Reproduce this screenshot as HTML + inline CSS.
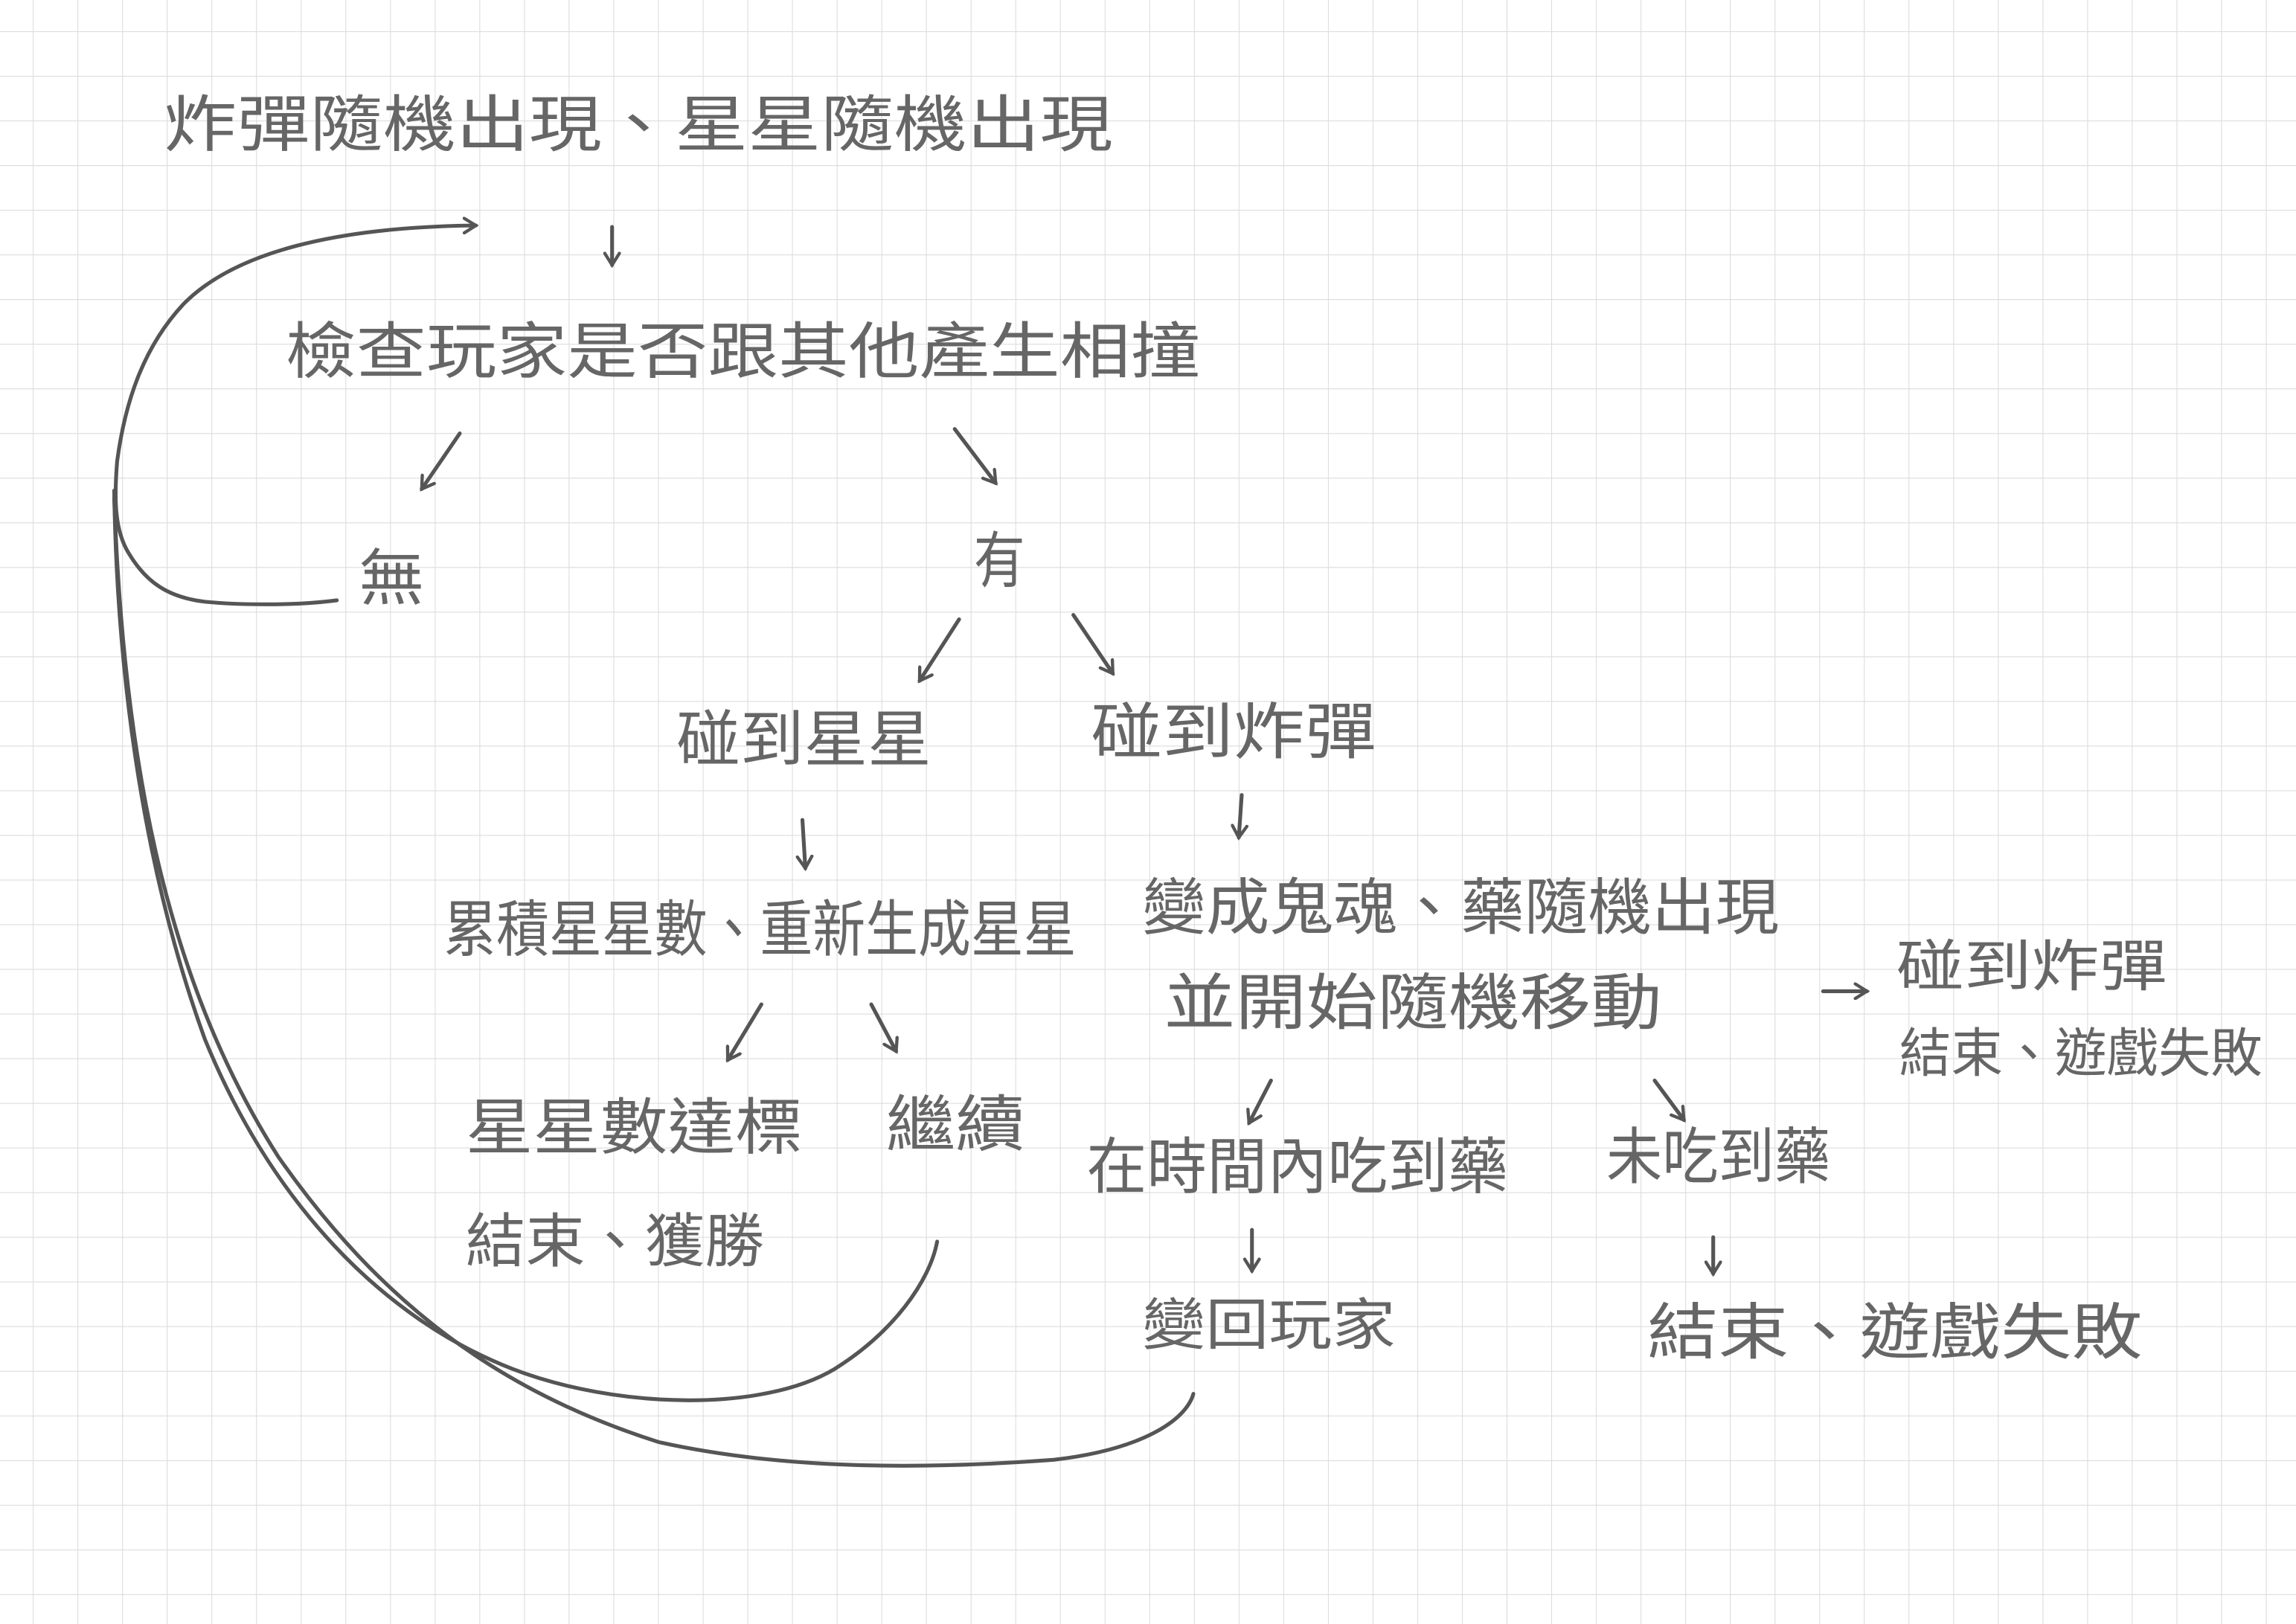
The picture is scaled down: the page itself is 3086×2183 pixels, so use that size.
<!DOCTYPE html>
<html><head><meta charset="utf-8"><style>
html,body{margin:0;padding:0;background:#fff;}
svg{display:block;}
text{font-family:"Liberation Sans","Noto Sans CJK TC","WenQuanYi Zen Hei",sans-serif;fill:#666;dominant-baseline:central;}
</style></head><body>
<svg width="3086" height="2183" viewBox="0 0 1568 1109.2" preserveAspectRatio="none" xmlns="http://www.w3.org/2000/svg">
<defs>
<pattern id="g" x="22.4" y="21.3" width="30.5" height="30.5" patternUnits="userSpaceOnUse">
<path d="M0 0H30.5M0 0V30.5" stroke="#dcdcdc" stroke-width="1.1" fill="none"/>
</pattern>
<marker id="a" markerWidth="12" markerHeight="12" refX="9" refY="6" orient="auto" markerUnits="userSpaceOnUse">
<path d="M1 1L9 6L1 11" fill="none" stroke="#555" stroke-width="2.2" stroke-linecap="round"/>
</marker>
</defs>
<rect width="1568" height="1110" fill="#fff"/>
<rect width="1568" height="1110" fill="url(#g)"/>
<g font-size="42">
<text x="112" y="85" textLength="648" lengthAdjust="spacingAndGlyphs">炸彈隨機出現、星星隨機出現</text>
<text x="195" y="240" textLength="625" lengthAdjust="spacingAndGlyphs">檢查玩家是否跟其他產生相撞</text>
<text x="245" y="395" textLength="45" lengthAdjust="spacingAndGlyphs">無</text>
<text x="665" y="383" textLength="35" lengthAdjust="spacingAndGlyphs">有</text>
<text x="462" y="505" textLength="174" lengthAdjust="spacingAndGlyphs">碰到星星</text>
<text x="745" y="500" textLength="195" lengthAdjust="spacingAndGlyphs">碰到炸彈</text>
<text x="303" y="635" textLength="432" lengthAdjust="spacingAndGlyphs">累積星星數、重新生成星星</text>
<text x="780" y="620" textLength="435" lengthAdjust="spacingAndGlyphs">變成鬼魂、藥隨機出現</text>
<text x="795" y="685" textLength="340" lengthAdjust="spacingAndGlyphs">並開始隨機移動</text>
<text x="1295" y="660" font-size="38" textLength="185" lengthAdjust="spacingAndGlyphs">碰到炸彈</text>
<text x="1297" y="720" font-size="36" textLength="248" lengthAdjust="spacingAndGlyphs">結束、遊戲失敗</text>
<text x="318" y="770" textLength="230" lengthAdjust="spacingAndGlyphs">星星數達標</text>
<text x="318" y="848" font-size="40" textLength="204" lengthAdjust="spacingAndGlyphs">結束、獲勝</text>
<text x="605" y="768" textLength="95" lengthAdjust="spacingAndGlyphs">繼續</text>
<text x="742" y="797" textLength="288" lengthAdjust="spacingAndGlyphs">在時間內吃到藥</text>
<text x="1097" y="790" textLength="153" lengthAdjust="spacingAndGlyphs">未吃到藥</text>
<text x="780" y="905" font-size="38" textLength="173" lengthAdjust="spacingAndGlyphs">變回玩家</text>
<text x="1125" y="910" textLength="338" lengthAdjust="spacingAndGlyphs">結束、遊戲失敗</text>
</g>
<g stroke="#555" stroke-width="2.6" fill="none" stroke-linecap="round">
<path d="M418 155L418 181" marker-end="url(#a)"/>
<path d="M314 296L288 334" marker-end="url(#a)"/>
<path d="M652 293L680 330" marker-end="url(#a)"/>
<path d="M655 423L628 465" marker-end="url(#a)"/>
<path d="M733 420L760 460" marker-end="url(#a)"/>
<path d="M848 543L846 572" marker-end="url(#a)"/>
<path d="M548 560L550 593" marker-end="url(#a)"/>
<path d="M520 686L497 724" marker-end="url(#a)"/>
<path d="M595 686L612 718" marker-end="url(#a)"/>
<path d="M868 738L853 767" marker-end="url(#a)"/>
<path d="M1130 738L1150 765" marker-end="url(#a)"/>
<path d="M855 840L855 868" marker-end="url(#a)"/>
<path d="M1170 845L1170 870" marker-end="url(#a)"/>
<path d="M1245 677L1275 677" marker-end="url(#a)"/>
<path d="M230 410C200 414 160 413 140 411C115 408 100 398 88 378C78 362 78 340 80 315C86 270 100 235 125 208C160 172 230 155 325 154" marker-end="url(#a)"/>
<path d="M78 335C80 470 100 600 140 710C185 820 260 900 350 935C420 962 520 965 570 935C610 910 635 875 640 848"/>
<path d="M78 340C85 540 120 680 190 790C260 890 340 950 450 985C540 1005 640 1003 720 997C780 990 810 970 815 952"/>
</g>
</svg>
</body></html>
